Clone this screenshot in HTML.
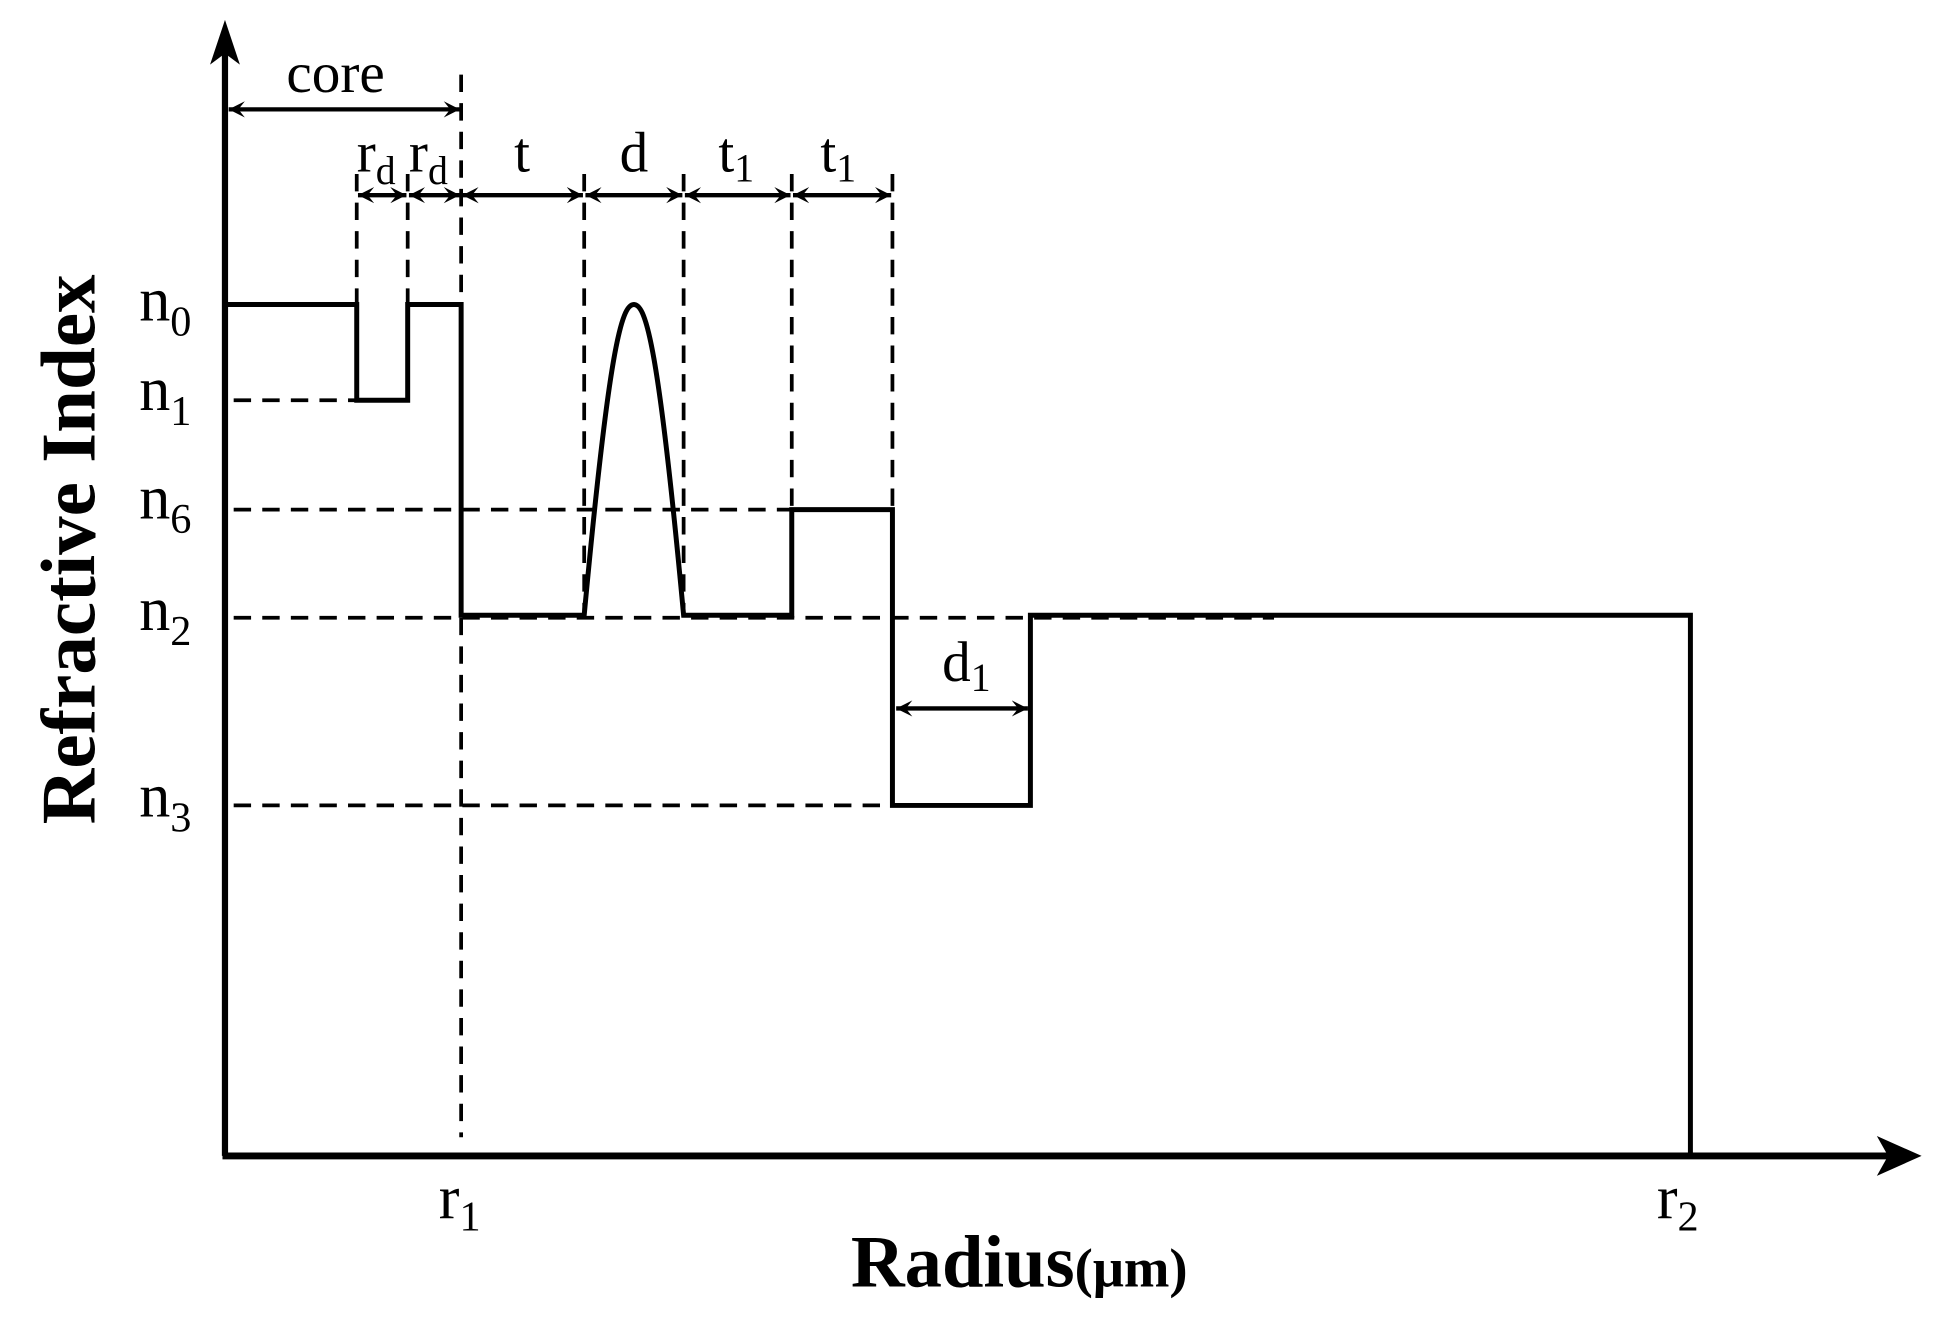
<!DOCTYPE html>
<html><head><style>html,body{margin:0;padding:0;background:#fff;overflow:hidden}svg{display:block}</style></head>
<body>
<svg width="1939" height="1320" viewBox="0 0 1560 1062" preserveAspectRatio="none" xmlns="http://www.w3.org/2000/svg" font-family="Liberation Serif, serif">
<defs>
<marker id="sa" viewBox="0 0 10 10" refX="10" refY="5" markerWidth="13" markerHeight="16" orient="auto-start-reverse" markerUnits="userSpaceOnUse"><path d="M0,0 L10,5 L0,10 L4,5 z" fill="#000"/></marker>
</defs>
<g stroke="#000" fill="none">
<line x1="181" y1="930" x2="181" y2="40" stroke-width="5"/>
<path d="M181,16 L193,52 L181,43 L169,52 z" fill="#000" stroke="none"/>
<line x1="179" y1="930" x2="1520" y2="930" stroke-width="5.5"/>
<path d="M1546,930 L1510,914 L1519,930 L1510,946 z" fill="#000" stroke="none"/>
<g stroke-width="3" stroke-dasharray="14,9">
<line x1="371" y1="60" x2="371" y2="915"/>
<line x1="287" y1="140" x2="287" y2="245"/>
<line x1="328" y1="140" x2="328" y2="245"/>
<line x1="470" y1="140" x2="470" y2="495"/>
<line x1="550" y1="140" x2="550" y2="495"/>
<line x1="637" y1="140" x2="637" y2="410"/>
<line x1="718" y1="140" x2="718" y2="410"/>
<line x1="188" y1="322" x2="287" y2="322"/>
<line x1="188" y1="410" x2="637" y2="410"/>
<line x1="188" y1="497" x2="1025" y2="497"/>
<line x1="188" y1="648" x2="718" y2="648"/>
</g>
<path d="M183,245 H287 V322 H328 V245 H371 V495 H470 C490,280 500,245 510,245 C520,245 530,280 550,495 H637 V410 H718 V648 H829 V495 H1360 V930" stroke-width="4" stroke-linejoin="miter"/>
<g stroke-width="3.5">
<line x1="184" y1="88" x2="370" y2="88" marker-start="url(#sa)" marker-end="url(#sa)"/>
<line x1="288" y1="157" x2="327" y2="157" marker-start="url(#sa)" marker-end="url(#sa)"/>
<line x1="329" y1="157" x2="370" y2="157" marker-start="url(#sa)" marker-end="url(#sa)"/>
<line x1="372" y1="157" x2="469" y2="157" marker-start="url(#sa)" marker-end="url(#sa)"/>
<line x1="471" y1="157" x2="549" y2="157" marker-start="url(#sa)" marker-end="url(#sa)"/>
<line x1="551" y1="157" x2="636" y2="157" marker-start="url(#sa)" marker-end="url(#sa)"/>
<line x1="638" y1="157" x2="717" y2="157" marker-start="url(#sa)" marker-end="url(#sa)"/>
<line x1="721" y1="570" x2="827" y2="570" marker-start="url(#sa)" marker-end="url(#sa)"/>
</g>
</g>
<g fill="#000" font-size="46">
<text x="270" y="74" text-anchor="middle">core</text>
<text x="287" y="138">r<tspan font-size="32" dy="10">d</tspan></text>
<text x="329" y="138">r<tspan font-size="32" dy="10">d</tspan></text>
<text x="420" y="138" text-anchor="middle">t</text>
<text x="510" y="138" text-anchor="middle">d</text>
<text x="578" y="138">t<tspan font-size="32" dy="8">1</tspan></text>
<text x="660" y="138">t<tspan font-size="32" dy="8">1</tspan></text>
<text x="758" y="548">d<tspan font-size="32" dy="8">1</tspan></text>
<g font-size="50">
<text x="112" y="258">n<tspan font-size="34" dy="12">0</tspan></text>
<text x="112" y="330">n<tspan font-size="34" dy="12">1</tspan></text>
<text x="112" y="417">n<tspan font-size="34" dy="12">6</tspan></text>
<text x="112" y="507">n<tspan font-size="34" dy="12">2</tspan></text>
<text x="112" y="657">n<tspan font-size="34" dy="12">3</tspan></text>
<text x="353" y="980">r<tspan font-size="34" dy="10">1</tspan></text>
<text x="1333" y="980">r<tspan font-size="34" dy="10">2</tspan></text>
</g>
<text x="820" y="1035" text-anchor="middle" font-size="60" font-weight="bold">Radius<tspan font-size="44">(μm)</tspan></text>
<text transform="translate(76,442) rotate(-90)" text-anchor="middle" font-size="62" font-weight="bold">Refractive Index</text>
</g>
</svg>
</body></html>
